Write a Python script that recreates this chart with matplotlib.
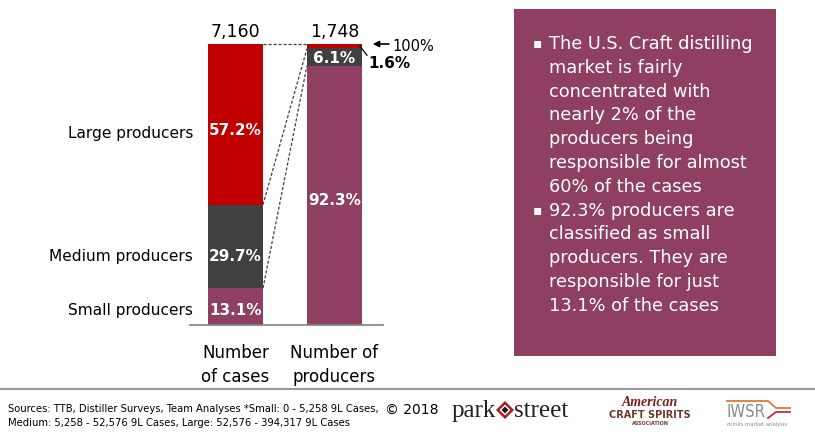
import matplotlib.pyplot as plt
from matplotlib.patches import Rectangle, Polygon

# data
categories = ['Small producers', 'Medium producers', 'Large producers']
cases_share = [13.1, 29.7, 57.2]
producers_share = [92.3, 6.1, 1.6]
totals = ['7,160', '1,748']
bar_labels = ['Number\nof cases', 'Number of\nproducers']
colors = ['#8E3F62', '#404040', '#C00000']

bullets = [
    'The U.S. Craft distilling\nmarket is fairly\nconcentrated with\nnearly 2% of the\nproducers being\nresponsible for almost\n60% of the cases',
    '92.3% producers are\nclassified as small\nproducers. They are\nresponsible for just\n13.1% of the cases',
]
source_text = ('Sources: TTB, Distiller Surveys, Team Analyses *Small: 0 - 5,258 9L Cases,\n'
               'Medium: 5,258 - 52,576 9L Cases, Large: 52,576 - 394,317 9L Cases')

W, H = 815, 435
fig = plt.figure(figsize=(W / 100, H / 100), dpi=100)
fig.patch.set_facecolor('white')

def fx(px):
    return px / W

def fy(py):
    return (H - py) / H

def diamond(cx, cy, r, color):
    fig.add_artist(Polygon([[fx(cx), fy(cy - r)], [fx(cx + r), fy(cy)],
                            [fx(cx), fy(cy + r)], [fx(cx - r), fy(cy)]],
                           closed=True, transform=fig.transFigure, facecolor=color,
                           edgecolor='none'))

# axes placed in pixel space: x 190..383, y 45..326
ax = fig.add_axes([fx(190), fy(326), 193 / W, 281 / H])
width = 55 / 99
ax.set_xlim(-45.5 / 99, 1 + 48.5 / 99)
ax.set_ylim(0, 100)
for s in ['top', 'right', 'left']:
    ax.spines[s].set_visible(False)
ax.spines['bottom'].set_color('#7f7f7f')
ax.spines['bottom'].set_linewidth(1.2)
ax.set_yticks([])
ax.set_xticks([0, 1])
ax.set_xticklabels(bar_labels, fontsize=12, linespacing=1.4)
ax.tick_params(axis='x', length=0, pad=13)

for xi, shares in enumerate([cases_share, producers_share]):
    bottom = 0
    for i, v in enumerate(shares):
        ax.bar(xi, v, width=width, bottom=bottom, color=colors[i], linewidth=0)
        bottom += v
    ax.text(xi, 101.5, totals[xi], ha='center', va='bottom', fontsize=12.5)

# labels inside bars (sit slightly below segment centres, as in the slide)
b = 0
offsets = [-0.9, -3.3, -2.0]
for i, v in enumerate(cases_share):
    ax.text(0, b + v / 2 + offsets[i], f'{v}%', ha='center', va='center', color='white',
            fontsize=11, fontweight='bold')
    b += v
ax.text(1, 44.8, f'{producers_share[0]}%', ha='center', va='center',
        color='white', fontsize=11, fontweight='bold')
ax.text(1, producers_share[0] + producers_share[1] / 2, f'{producers_share[1]}%', ha='center',
        va='center', color='white', fontsize=11, fontweight='bold')

# category labels on the left
b = 0
lab_off = [-0.9, -3.3, -2.8]
for i, lab in enumerate(categories):
    ax.text(-0.43, b + cases_share[i] / 2 + lab_off[i], lab, ha='right', va='center',
            fontsize=11.1, clip_on=False)
    b += cases_share[i]

# dashed connectors
xl, xr = width / 2, 1 - width / 2
cum_c = [0, cases_share[0], cases_share[0] + cases_share[1], 100]
cum_p = [0, producers_share[0], producers_share[0] + producers_share[1], 100]
for k in [1, 2, 3]:
    ax.plot([xl, xr], [cum_c[k], cum_p[k]], ls=(0, (2.5, 1.5)), color='#404040', lw=0.9,
            clip_on=False)

# 1.6% pointer and 100% arrow
ax.plot([1 + width / 2 - 0.02, 1 + width / 2 + 0.05], [99.2, 96.0], color='black', lw=0.9,
        clip_on=False)
ax.text(1 + width / 2 + 0.06, 93.3, f'{producers_share[2]}%', ha='left', va='center',
        fontsize=11, fontweight='bold', clip_on=False)
ax.annotate('', xy=(1 + width / 2 + 0.08, 100), xytext=(1 + width / 2 + 0.3, 100),
            arrowprops=dict(arrowstyle='-|>', color='black', lw=1.2, mutation_scale=9),
            annotation_clip=False)
ax.text(1 + width / 2 + 0.31, 99.5, '100%', ha='left', va='center', fontsize=10.5,
        clip_on=False)

# right text box
fig.add_artist(Rectangle((fx(514), fy(357)), 262 / W, 347 / H,
                         transform=fig.transFigure, facecolor='#8E3F62', edgecolor='none'))
line_y = 44
for txt in bullets:
    fig.text(fx(537), fy(line_y - 1), '\u25aa', color='white', fontsize=10, va='center',
             ha='center')
    for line in txt.split('\n'):
        fig.text(fx(549), fy(line_y), line, color='white', fontsize=12.8, va='center')
        line_y += 23.8

# footer
fig.add_artist(plt.Line2D([0, 1], [fy(390)] * 2, color='#9a9a9a', lw=1.5,
                          transform=fig.transFigure))
fig.text(fx(8), fy(416), source_text, fontsize=8, va='center', linespacing=1.55,
         fontstretch='condensed')
fig.text(fx(385), fy(410), '\u00a9 2018', fontsize=10, va='center')

# park street logo
fig.text(fx(452), fy(411), 'park', fontsize=18, va='center', family='Liberation Serif',
         color='#222222')
diamond(505, 411, 9, '#B01818')
diamond(505, 411, 5.5, 'white')
diamond(505, 411, 3.5, '#1a1a1a')
fig.text(fx(514), fy(411), 'street', fontsize=18, va='center', family='Liberation Serif',
         color='#222222')

# American Craft Spirits Association logo
fig.text(fx(650), fy(403), 'American', fontsize=10, va='center', ha='center',
         color='#7a1f1f', style='italic', family='Liberation Serif', fontweight='bold')
fig.text(fx(650), fy(415), 'CRAFT SPIRITS', fontsize=7, va='center', ha='center',
         color='#6b3a2a', fontweight='bold')
fig.text(fx(650), fy(424), 'ASSOCIATION', fontsize=3.5, va='center', ha='center',
         color='#6b3a2a', fontweight='bold')

# IWSR logo
fig.text(fx(727), fy(412), 'IWSR', fontsize=12, va='center', color='#8a8a8a',
         fontstretch='condensed')
fig.text(fx(727), fy(425), 'drinks market analysis', fontsize=3.8, va='center',
         color='#8a8a8a')
fig.add_artist(plt.Line2D([fx(727), fx(768), fx(776), fx(790)],
                          [fy(402), fy(402), fy(409), fy(409)],
                          color='#E07A30', lw=1.3, transform=fig.transFigure))
fig.add_artist(plt.Line2D([fx(768), fx(776), fx(790)],
                          [fy(419), fy(413), fy(413)],
                          color='#C0304A', lw=1.3, transform=fig.transFigure))

fig.savefig('out.png', dpi=100)
